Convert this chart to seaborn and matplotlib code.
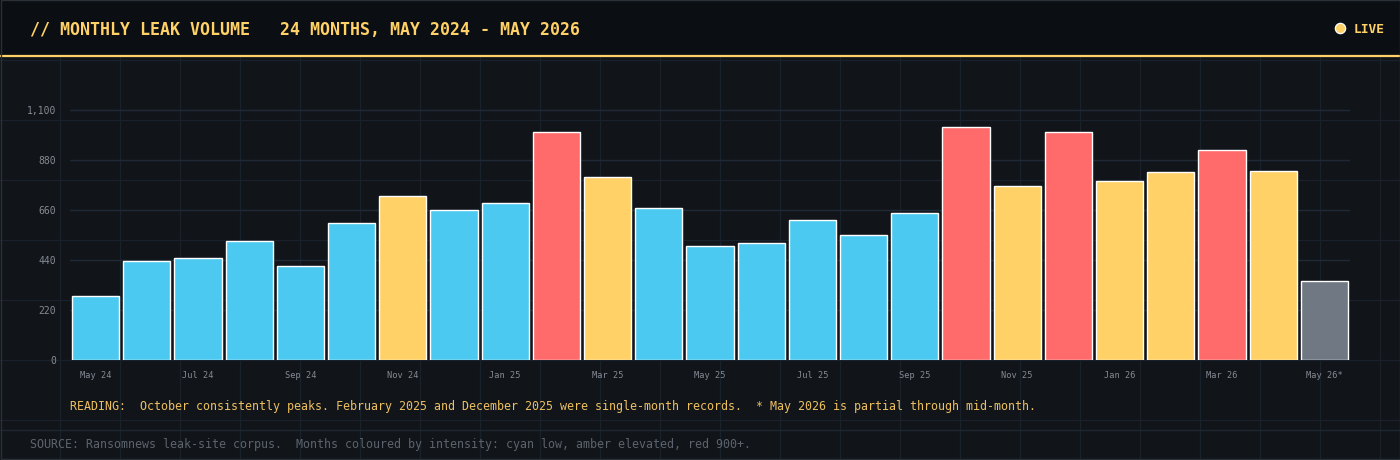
import matplotlib
matplotlib.use("Agg")
import matplotlib.pyplot as plt
import seaborn as sns
import pandas as pd
from matplotlib.patches import Rectangle

# ---- data ----
months = ["May 24", "Jun 24", "Jul 24", "Aug 24", "Sep 24", "Oct 24", "Nov 24", "Dec 24",
          "Jan 25", "Feb 25", "Mar 25", "Apr 25", "May 25", "Jun 25", "Jul 25", "Aug 25",
          "Sep 25", "Oct 25", "Nov 25", "Dec 25", "Jan 26", "Feb 26", "Mar 26", "Apr 26",
          "May 26*"]
volumes = [283, 434, 446, 521, 415, 604, 719, 661, 692, 1000, 802, 666, 499, 516, 617,
           547, 648, 1022, 763, 1000, 786, 824, 925, 829, 349]
levels = ["low", "low", "low", "low", "low", "low", "elevated", "low", "low", "high",
          "elevated", "low", "low", "low", "low", "low", "low", "high", "elevated", "high",
          "elevated", "elevated", "high", "elevated", "partial"]
yticks = [0, 220, 440, 660, 880, 1100]

title = "// MONTHLY LEAK VOLUME   24 MONTHS, MAY 2024 - MAY 2026"
reading = ("READING:  October consistently peaks. February 2025 and December 2025 were "
           "single-month records.  * May 2026 is partial through mid-month.")
source = ("SOURCE: Ransomnews leak-site corpus.  Months coloured by intensity: "
          "cyan low, amber elevated, red 900+.")

# ---- style ----
BG = "#11151a"
HEADER = "#0b0e12"
BGGRID = "#19212b"
AXGRID = "#202a37"
AMBER = "#ffd166"
CYAN = "#4cc9f0"
RED = "#ff6b6b"
GREY = "#707884"
TICK = "#858b94"
palette = {"low": CYAN, "elevated": AMBER, "high": RED, "partial": GREY}

sns.set_theme(style="dark")
plt.rcParams["font.family"] = ["DejaVu Sans Mono", "DejaVu Sans"]

W, H = 1400, 460
fig = plt.figure(figsize=(W / 100, H / 100 + 0.004), dpi=100, facecolor=BG)

# background decoration axes (pixel coordinates)
bg = fig.add_axes([0, 0, 1, 1], zorder=-5)
bg.set_xlim(0, W)
bg.set_ylim(H, 0)
bg.axis("off")
bg.set_facecolor(BG)
bg.add_patch(Rectangle((0, 0), W, H, facecolor=BG, edgecolor="none", zorder=0))
for gx in range(60, W, 60):
    bg.plot([gx, gx], [57, H], color=BGGRID, lw=0.9, zorder=1)
for gy in range(60, H, 60):
    bg.plot([0, W], [gy, gy], color=BGGRID, lw=0.9, zorder=1)
bg.plot([0, W], [430, 430], color="#1f2731", lw=1.0, zorder=2)
bg.add_patch(Rectangle((0, 0), W, 56, facecolor=HEADER, edgecolor="none", zorder=3))
bg.plot([0, W], [56.5, 56.5], color=AMBER, lw=1.6, zorder=4)
bg.add_patch(Rectangle((0.5, 0.5), W - 1, H - 1, facecolor="none", edgecolor="#2a3038",
                       lw=1.0, zorder=5))
bg.text(30, 30, title, color=AMBER, fontsize=12, fontweight="bold",
        va="center", ha="left", zorder=6)
bg.scatter([1340], [28], s=55, color=AMBER, edgecolor="white", linewidth=0.9, zorder=6)
bg.text(1354, 29, "LIVE", color=AMBER, fontsize=9.3, fontweight="bold",
        va="center", ha="left", zorder=6)
bg.text(70, 406, reading, color="#eec060", fontsize=8.4, va="center", ha="left", zorder=6)
bg.text(30, 444, source, color="#5c636c", fontsize=8.4, va="center", ha="left", zorder=6)

# main chart axes
left, right = 70, 1350
bottom_px, top_px = 360, 85
ax = fig.add_axes([left / W, 1 - bottom_px / H, (right - left) / W, (bottom_px - top_px) / H])
ax.set_facecolor("none")

df = pd.DataFrame({"month": months, "volume": volumes, "level": levels})
sns.barplot(data=df, x="month", y="volume", hue="level", palette=palette, dodge=False,
            legend=False, width=0.92, edgecolor="white", linewidth=1.0, saturation=1,
            ax=ax, zorder=3)

ax.set_xlim(-0.5, len(months) - 0.5)
ax.set_ylim(0, 1210)
ax.set_yticks(yticks)
ax.set_yticklabels([f"{v:,}" for v in yticks])
ax.set_xticks(range(len(months)))
ax.set_xticklabels([m if i % 2 == 0 else "" for i, m in enumerate(months)])
ax.tick_params(axis="y", length=0, pad=10, labelsize=7, labelcolor=TICK)
ax.tick_params(axis="x", length=0, pad=8, labelsize=6.2, labelcolor=TICK)
ax.set_xlabel("")
ax.set_ylabel("")
for s in ax.spines.values():
    s.set_visible(False)
ax.grid(False)
for v in yticks:
    ax.axhline(v, color=AXGRID, lw=1.0, zorder=1)

fig.savefig("out.png", dpi=100, facecolor=BG)
